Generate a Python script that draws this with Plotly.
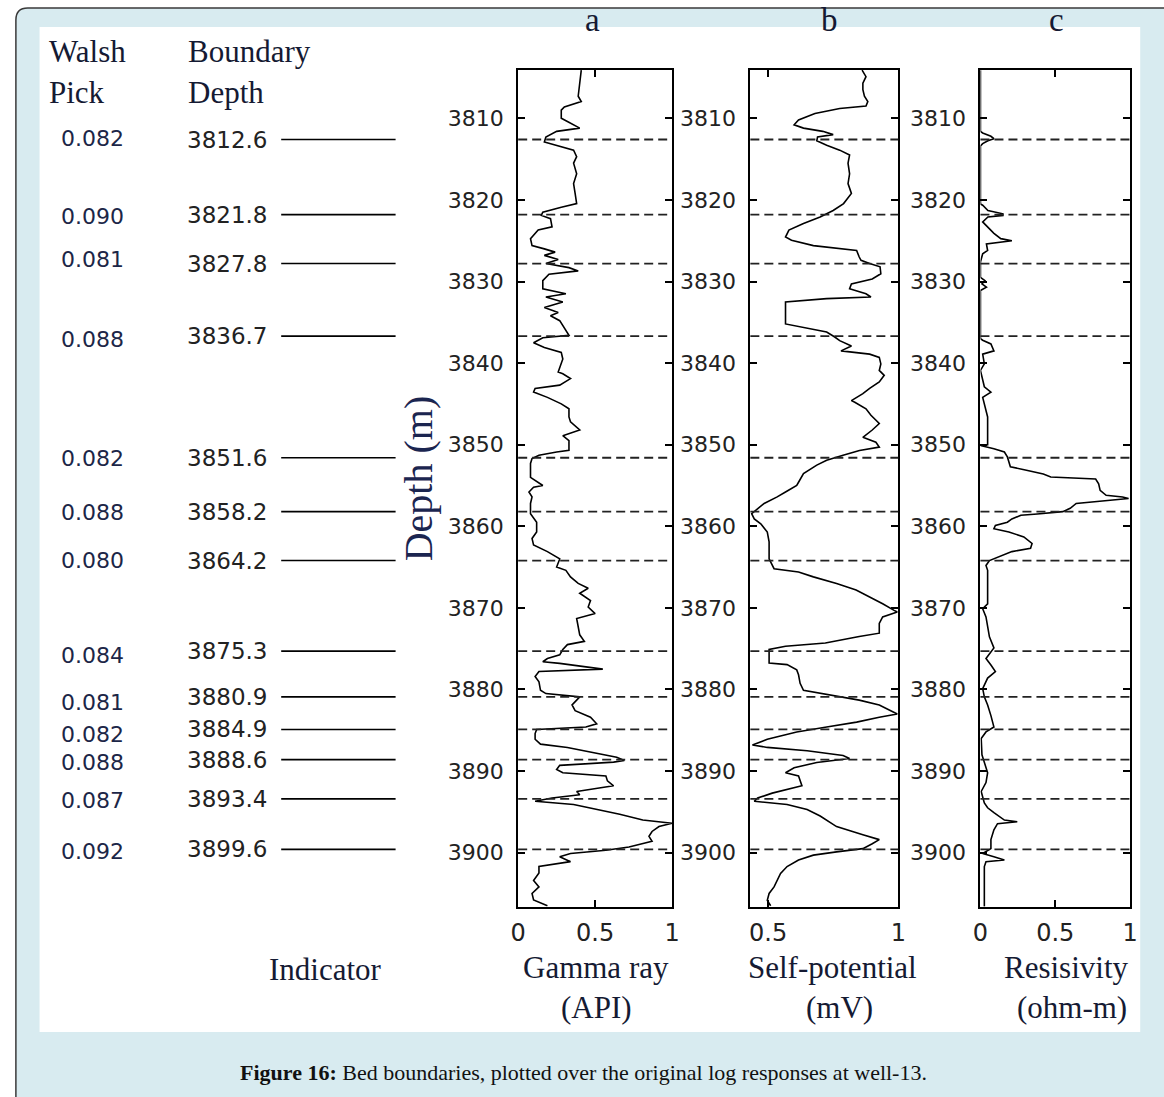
import plotly.graph_objects as go

W, H = 1164, 1097

# Picked bed boundaries and their Walsh indicator values
boundary_depth = [3812.6, 3821.8, 3827.8, 3836.7, 3851.6, 3858.2, 3864.2,
                  3875.3, 3880.9, 3884.9, 3888.6, 3893.4, 3899.6]
walsh_pick = ["0.082", "0.090", "0.081", "0.088", "0.082", "0.088", "0.080",
              "0.084", "0.081", "0.082", "0.088", "0.087", "0.092"]

# Normalised gamma-ray log
gr_depth = [3804.1, 3805.7, 3807.3, 3807.95, 3808.6, 3809.0, 3810.0, 3810.4, 3810.8, 3811.2,
            3811.6, 3812.3, 3812.9, 3813.3, 3813.9, 3814.7, 3815.5, 3816.8, 3818.0, 3819.2,
            3820.45, 3820.9, 3821.5, 3821.9, 3822.3, 3823.3, 3823.7, 3824.75, 3825.6, 3826.0,
            3826.4, 3826.8, 3827.3, 3827.8, 3828.3, 3828.7, 3829.1, 3829.9, 3830.9, 3831.5,
            3831.9, 3832.5, 3833.2, 3833.8, 3834.2, 3834.8, 3836.0, 3836.6, 3836.9, 3837.5,
            3838.1, 3838.7, 3839.5, 3840.1, 3841.1, 3841.3, 3841.9, 3842.7, 3843.1, 3843.55,
            3844.2, 3845.0, 3845.6, 3846.6, 3847.2, 3848.2, 3848.9, 3849.5, 3850.7, 3850.9,
            3851.3, 3851.7, 3852.3, 3854.0, 3855.0, 3855.2, 3855.8, 3856.4, 3857.2, 3858.45,
            3859.5, 3860.7, 3861.5, 3862.3, 3863.1, 3864.0, 3865.0, 3865.4, 3866.2, 3867.0,
            3867.6, 3868.2, 3869.1, 3869.9, 3870.7, 3871.3, 3872.3, 3873.3, 3874.1, 3874.5,
            3875.1, 3875.75, 3876.2, 3876.6, 3876.8, 3877.2, 3877.5, 3877.8, 3878.4, 3879.05,
            3880.1, 3880.5, 3880.9, 3881.3, 3881.9, 3882.6, 3883.4, 3884.2, 3884.6, 3884.9,
            3885.4, 3886.1, 3886.7, 3887.1, 3887.7, 3888.3, 3888.7, 3888.9, 3889.3, 3889.8,
            3890.2, 3890.6, 3891.2, 3891.8, 3892.5, 3892.9, 3893.3, 3893.7, 3894.1, 3894.7,
            3895.3, 3896.0, 3896.4, 3896.8, 3897.4, 3898.0, 3898.6, 3899.3, 3899.7, 3900.1,
            3900.5, 3901.1, 3901.7, 3902.5, 3903.4, 3904.2, 3905.0, 3905.8, 3906.5]
gr_value = [0.41, 0.40, 0.39, 0.41, 0.30, 0.28, 0.28, 0.32, 0.36, 0.40,
            0.25, 0.18, 0.17, 0.25, 0.36, 0.38, 0.36, 0.38, 0.36, 0.37,
            0.38, 0.28, 0.16, 0.15, 0.21, 0.22, 0.13, 0.08, 0.09, 0.17,
            0.24, 0.17, 0.26, 0.18, 0.33, 0.39, 0.20, 0.16, 0.16, 0.31,
            0.18, 0.29, 0.17, 0.26, 0.21, 0.27, 0.31, 0.33, 0.16, 0.10,
            0.17, 0.28, 0.29, 0.28, 0.26, 0.29, 0.34, 0.27, 0.11, 0.10,
            0.19, 0.28, 0.33, 0.33, 0.34, 0.40, 0.29, 0.33, 0.33, 0.25,
            0.135, 0.09, 0.08, 0.08, 0.16, 0.10, 0.07, 0.09, 0.08, 0.08,
            0.12, 0.12, 0.09, 0.10, 0.19, 0.27, 0.25, 0.31, 0.34, 0.39,
            0.455, 0.40, 0.47, 0.455, 0.50, 0.38, 0.39, 0.40, 0.43, 0.32,
            0.29, 0.27, 0.19, 0.16, 0.27, 0.42, 0.55, 0.135, 0.11, 0.135,
            0.145, 0.18, 0.40, 0.38, 0.35, 0.37, 0.47, 0.51, 0.44, 0.12,
            0.11, 0.11, 0.145, 0.32, 0.47, 0.64, 0.69, 0.62, 0.27, 0.25,
            0.29, 0.57, 0.58, 0.62, 0.38, 0.40, 0.22, 0.11, 0.36, 0.51,
            0.66, 0.81, 1.0, 0.915, 0.87, 0.85, 0.87, 0.72, 0.57, 0.34,
            0.27, 0.34, 0.135, 0.135, 0.10, 0.135, 0.09, 0.10, 0.19]

# Normalised self-potential log
sp_depth = [3804.1, 3804.9, 3805.7, 3806.5, 3807.3, 3807.95, 3808.5, 3808.8, 3809.4, 3810.2,
            3810.8, 3811.2, 3811.6, 3812.0, 3812.3, 3812.75, 3813.3, 3813.9, 3814.5, 3815.5,
            3816.8, 3818.0, 3819.2, 3819.8, 3820.45, 3821.3, 3822.1, 3822.9, 3823.7, 3824.55,
            3824.95, 3825.6, 3826.2, 3827.0, 3827.4, 3827.8, 3828.2, 3829.05, 3829.7, 3830.3,
            3830.9, 3831.5, 3831.9, 3832.1, 3832.5, 3835.2, 3835.6, 3836.2, 3836.8, 3837.25,
            3837.9, 3838.5, 3838.9, 3839.3, 3840.1, 3840.9, 3841.5, 3842.3, 3843.1, 3843.75,
            3844.6, 3844.8, 3845.6, 3846.4, 3847.4, 3848.2, 3849.1, 3849.7, 3850.3, 3850.7,
            3851.3, 3851.9, 3852.5, 3853.55, 3854.6, 3855.0, 3855.8, 3856.4, 3857.2, 3857.8,
            3858.45, 3859.1, 3859.7, 3860.7, 3861.9, 3863.1, 3864.0, 3865.2, 3865.6, 3866.2,
            3867.0, 3867.8, 3868.65, 3869.5, 3870.3, 3870.5, 3871.1, 3871.9, 3873.1, 3873.5,
            3874.3, 3874.7, 3875.1, 3876.75, 3876.95, 3877.6, 3878.2, 3879.25, 3880.1, 3880.5,
            3880.9, 3881.3, 3881.9, 3883.0, 3883.4, 3884.0, 3884.6, 3885.2, 3886.1, 3886.8,
            3887.1, 3887.5, 3888.1, 3888.45, 3888.95, 3889.6, 3890.2, 3890.6, 3891.8, 3892.7,
            3893.3, 3893.7, 3894.1, 3894.7, 3895.5, 3896.8, 3897.8, 3898.4, 3898.9, 3899.5,
            3899.9, 3900.3, 3900.9, 3901.7, 3902.55, 3903.4, 3904.2, 3905.0, 3905.85, 3906.5]
sp_value = [0.861, 0.876, 0.864, 0.864, 0.87, 0.883, 0.876, 0.775, 0.68, 0.617,
            0.60, 0.636, 0.71, 0.75, 0.69, 0.687, 0.725, 0.775, 0.813, 0.807,
            0.813, 0.807, 0.82, 0.807, 0.79, 0.75, 0.70, 0.636, 0.58, 0.567,
            0.59, 0.674, 0.84, 0.85, 0.857, 0.89, 0.93, 0.933, 0.90, 0.82,
            0.813, 0.876, 0.895, 0.725, 0.567, 0.567, 0.636, 0.725, 0.756, 0.775,
            0.82, 0.78, 0.89, 0.927, 0.933, 0.927, 0.946, 0.927, 0.89, 0.864,
            0.82, 0.833, 0.876, 0.895, 0.927, 0.90, 0.864, 0.914, 0.927, 0.851,
            0.788, 0.725, 0.687, 0.636, 0.617, 0.61, 0.567, 0.535, 0.485, 0.46,
            0.437, 0.447, 0.472, 0.497, 0.504, 0.504, 0.504, 0.523, 0.617, 0.674,
            0.763, 0.838, 0.89, 0.94, 0.984, 0.996, 0.94, 0.927, 0.927, 0.85,
            0.72, 0.567, 0.504, 0.504, 0.573, 0.61, 0.617, 0.623, 0.636, 0.71,
            0.775, 0.85, 0.927, 0.996, 0.927, 0.84, 0.725, 0.61, 0.497, 0.44,
            0.497, 0.65, 0.788, 0.813, 0.687, 0.60, 0.567, 0.617, 0.63, 0.516,
            0.46, 0.447, 0.573, 0.65, 0.70, 0.763, 0.864, 0.927, 0.90, 0.864,
            0.763, 0.674, 0.617, 0.573, 0.548, 0.535, 0.523, 0.504, 0.497, 0.51]

# Normalised resistivity log
res_depth = [3804.1, 3811.6, 3811.8, 3812.2, 3812.5, 3812.75, 3813.1, 3813.4, 3820.5, 3820.65,
             3821.3, 3821.7, 3821.9, 3822.1, 3822.7, 3823.3, 3824.1, 3824.75, 3825.0, 3825.4,
             3826.2, 3826.6, 3827.6, 3829.5, 3829.9, 3830.3, 3830.7, 3831.1, 3837.0, 3837.2,
             3837.65, 3838.5, 3838.9, 3840.1, 3840.9, 3842.9, 3843.55, 3844.2, 3845.6, 3846.6,
             3850.0, 3850.1, 3850.5, 3850.9, 3851.5, 3852.7, 3853.1, 3853.6, 3853.95, 3854.2,
             3854.8, 3855.6, 3856.2, 3856.4, 3856.6, 3856.9, 3857.2, 3857.8, 3858.2, 3858.5,
             3858.65, 3859.1, 3859.5, 3859.9, 3860.3, 3860.7, 3861.3, 3862.1, 3862.7, 3863.1,
             3863.75, 3864.2, 3864.8, 3865.4, 3869.5, 3870.1, 3871.1, 3872.3, 3873.55, 3874.9,
             3876.2, 3877.0, 3877.8, 3878.6, 3879.9, 3880.9, 3881.9, 3883.2, 3884.6, 3885.2,
             3886.0, 3888.0, 3890.2, 3891.4, 3892.5, 3893.9, 3894.5, 3895.1, 3896.0, 3896.2,
             3896.45, 3897.2, 3898.4, 3899.5, 3900.1, 3900.5, 3900.9, 3901.1, 3901.7, 3906.6]
res_value = [0.0, 0.0, 0.015, 0.07, 0.09, 0.05, 0.015, 0.0, 0.0, 0.015,
             0.05, 0.15, 0.15, 0.05, 0.015, 0.05, 0.09, 0.136, 0.21, 0.04,
             0.048, 0.015, 0.0, 0.0, 0.03, 0.01, 0.04, 0.0, 0.0, 0.015,
             0.07, 0.09, 0.015, 0.026, 0.0, 0.026, 0.07, 0.015, 0.037, 0.048,
             0.048, 0.0, 0.09, 0.16, 0.18, 0.20, 0.30, 0.42, 0.47, 0.77,
             0.79, 0.80, 0.84, 0.95, 0.99, 0.80, 0.64, 0.60, 0.55, 0.38,
             0.27, 0.21, 0.18, 0.10, 0.09, 0.19, 0.29, 0.345, 0.335, 0.21,
             0.114, 0.06, 0.037, 0.048, 0.048, 0.015, 0.037, 0.048, 0.06, 0.09,
             0.037, 0.07, 0.10, 0.048, 0.015, 0.026, 0.048, 0.07, 0.09, 0.037,
             0.005, 0.01, 0.048, 0.037, 0.005, 0.026, 0.048, 0.09, 0.16, 0.246,
             0.114, 0.09, 0.07, 0.07, 0.015, 0.09, 0.16, 0.037, 0.026, 0.026]

depth_range = [3906.62, 3804.08]
depth_ticks = [3810, 3820, 3830, 3840, 3850, 3860, 3870, 3880, 3890, 3900]

panel_titles = ["a", "b", "c"]
panel_xrange = [[0, 1], [0.432, 1.0], [0, 1]]
panel_xticks = [[0, 0.5, 1], [0.5, 1], [0, 0.5, 1]]
panel_xticktext = [["0", "0.5", "1"], ["0.5", "1"], ["0", "0.5", "1"]]
panel_names = [("Gamma ray", "(API)"), ("Self-potential", "(mV)"), ("Resisivity", "(ohm-m)")]

# small vertical nudges (px, downward) of the Walsh values relative to their marker lines
walsh_nudge = [-1, 2, -4, 3, 1, 1, 0, 4, 6, 5, 3, 2, 2]


def px(x):
    return x / W


def py(y):
    return 1 - y / H


SERIF = "Liberation Serif, Times New Roman, serif"
SANS = "DejaVu Sans, Verdana, sans-serif"
INK = "#151a33"

fig = go.Figure()

series = [(gr_value, gr_depth), (sp_value, sp_depth), (res_value, res_depth)]
for i, (xv, yv) in enumerate(series):
    suffix = "" if i == 0 else str(i + 1)
    fig.add_trace(go.Scatter(x=xv, y=yv, mode="lines",
                             line=dict(color="black", width=1.6),
                             xaxis="x" + suffix, yaxis="y" + suffix,
                             showlegend=False, hoverinfo="skip"))

# track frames (pixel edges of the three log tracks)
track_px = [(517.3, 673.3), (752.7, 902.7), (986.0, 1137.7)]
plot_top, plot_bottom = 70.0, 906.7

layout = dict(
    width=W, height=H, autosize=False,
    margin=dict(l=0, r=0, t=0, b=0),
    paper_bgcolor="white", plot_bgcolor="white",
    showlegend=False,
)

for i in range(3):
    suffix = "" if i == 0 else str(i + 1)
    x0, x1 = track_px[i]
    layout["xaxis" + suffix] = dict(
        domain=[px(x0), px(x1)], range=panel_xrange[i], anchor="y" + suffix,
        tickvals=panel_xticks[i], ticktext=panel_xticktext[i],
        ticks="inside", ticklen=7, tickwidth=1.5, tickcolor="black",
        showline=True, linewidth=2, linecolor="black", mirror="ticks",
        showgrid=False, zeroline=False, fixedrange=True,
        tickfont=dict(family=SANS, size=24, color="#222"),
        ticklabelstandoff=3,
    )
    layout["yaxis" + suffix] = dict(
        domain=[py(plot_bottom), py(plot_top)], range=depth_range, anchor="x" + suffix,
        tickvals=depth_ticks,
        ticks="inside", ticklen=7, tickwidth=1.5, tickcolor="black",
        showline=True, linewidth=2, linecolor="black", mirror="ticks",
        showgrid=False, zeroline=False, fixedrange=True,
        tickfont=dict(family=SANS, size=22, color="#222"),
        ticklabelstandoff=8,
    )

shapes = []

# outer rounded frame and inner white panel
r = 12
x0b, y0b, x1b, y1b = 8, 8, 1180, 1110
path = (f"M {px(x0b)},{py(y1b)} L {px(x0b)},{py(y0b + r)} "
        f"Q {px(x0b)},{py(y0b)} {px(x0b + r)},{py(y0b)} "
        f"L {px(x1b)},{py(y0b)} L {px(x1b)},{py(y1b)} Z")
shapes.append(dict(type="path", path=path, xref="paper", yref="paper",
                   fillcolor="#d8ebf0", line=dict(color="#3a3a3a", width=1.5), layer="below"))
shapes.append(dict(type="rect", xref="paper", yref="paper",
                   x0=px(32), x1=px(1148), y0=py(1032), y1=py(27),
                   fillcolor="white", line=dict(width=0), layer="below"))

# dashed boundary markers across every track
for i in range(3):
    suffix = "" if i == 0 else str(i + 1)
    for d in boundary_depth:
        shapes.append(dict(type="line", xref="x" + suffix + " domain", yref="y" + suffix,
                           x0=0, x1=1, y0=d, y1=d,
                           line=dict(color="#222", width=1.8, dash="9px,5px"), layer="above"))

# indicator column: solid marker lines
for d in boundary_depth:
    shapes.append(dict(type="line", xref="paper", yref="y",
                       x0=px(277), x1=px(393), y0=d, y1=d,
                       line=dict(color="black", width=1.6)))

annotations = []


def note(text, x, y, size, family=SERIF, color=INK, xanchor="center", angle=0,
         yref="paper", yshift=0):
    annotations.append(dict(text=text, x=px(x), y=(py(y) if yref == "paper" else y),
                            xref="paper", yref=yref, showarrow=False,
                            xanchor=xanchor, yanchor="middle", textangle=angle,
                            yshift=yshift,
                            font=dict(family=family, size=size, color=color)))


for d, w, nudge in zip(boundary_depth, walsh_pick, walsh_nudge):
    note(w, 52, d, 22, family=SANS, color="#1c2647", xanchor="left", yref="y", yshift=-nudge)
    note(f"{d:.1f}", 179, d, 23, family=SANS, color="#222", xanchor="left", yref="y")

note("Walsh", 40, 52, 31, xanchor="left")
note("Pick", 40, 93, 31, xanchor="left")
note("Boundary", 180, 52, 31, xanchor="left")
note("Depth", 180, 93, 31, xanchor="left")
note("Depth (m)", 416, 478, 40, angle=-90, color="#1b2550")

title_x = [593, 833, 1063]
for t, x in zip(panel_titles, title_x):
    note(t, x, 20, 33)

note("Indicator", 322, 969, 31)
name_x = [(596, 597), (836, 843), (1073, 1079)]
for (top, bottom), (xa, xb) in zip(panel_names, name_x):
    note(top, xa, 967, 31)
    note(bottom, xb, 1007, 31)

note("<b>Figure 16:</b> Bed boundaries, plotted over the original log responses at well-13.",
     584, 1072, 22, color="#111")

layout["shapes"] = shapes
layout["annotations"] = annotations
fig.update_layout(**layout)

# the page holds nothing but the figure: drop the default body margin
page_css = ("document.documentElement.style.margin='0';"
            "document.body.style.margin='0';"
            "document.body.style.overflow='hidden';")
fig.write_html("out.html", config={"displayModeBar": False}, post_script=page_css)
